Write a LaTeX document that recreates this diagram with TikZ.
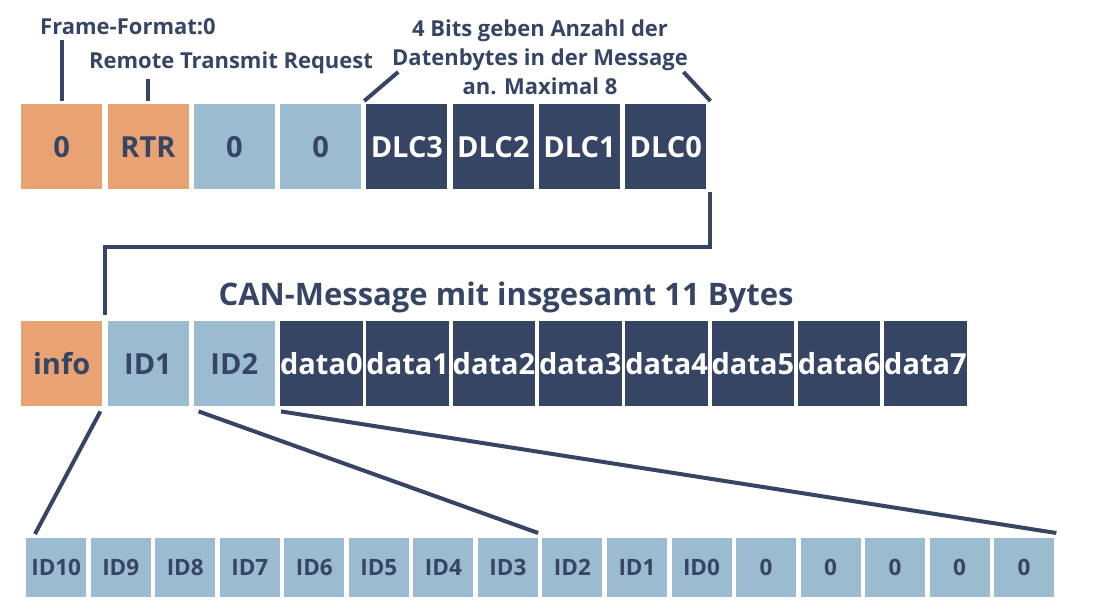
\documentclass[tikz,border=0pt]{standalone}
\usepackage{fontspec}
\setmainfont{Open Sans}
\definecolor{orng}{HTML}{E9A272}
\definecolor{lblue}{HTML}{9ABBD0}
\definecolor{navy}{HTML}{374565}
\tikzset{
  cell/.style={anchor=north west, inner sep=0pt, minimum width=81pt, minimum height=85pt, font=\bfseries\fontsize{29}{32}\selectfont},
  small/.style={anchor=north west, inner sep=0pt, minimum width=60pt, minimum height=59pt, fill=lblue, text=navy, font=\bfseries\fontsize{22.5}{25}\selectfont},
  org/.style={cell, fill=orng, text=navy},
  lb/.style={cell, fill=lblue, text=navy},
  dk/.style={cell, fill=navy, text=white},
  lbl/.style={text=navy, inner sep=0pt, font=\bfseries\fontsize{22}{25}\selectfont},
  conn/.style={draw=navy, line width=4pt},
}
\begin{document}
\begin{tikzpicture}[x=1pt,y=-1pt]
\useasboundingbox (0,0) rectangle (1117,611);
% top row
\node[org] (t0) at (21,104) {0};
\node[org] (t1) at (107.3,104) {RTR};
\node[lb] (t2) at (193.6,104) {0};
\node[lb] (t3) at (279.9,104) {0};
\node[dk] (t4) at (366.2,104) {DLC3};
\node[dk] (t5) at (452.5,104) {DLC2};
\node[dk] (t6) at (538.8,104) {DLC1};
\node[dk] (t7) at (625.1,104) {DLC0};
% labels
\node[lbl] (ff) at (128,27) {Frame-Format:0};
\node[lbl] (rtr) at (231,63) {Remote Transmit Request};
\node[lbl, align=center, font=\bfseries\fontsize{22}{29}\selectfont] (dlc) at (540,57) {4 Bits geben Anzahl der\\Datenbytes in der Message\\an. Maximal 8};
\node[lbl, font=\bfseries\fontsize{31}{35}\selectfont] (can) at (506,297) {CAN-Message mit insgesamt 11 Bytes};
% middle row
\node[org] (m0) at (21,321) {info};
\node[lb] (m1) at (107.3,321) {ID1};
\node[lb] (m2) at (193.6,321) {ID2};
\foreach \i [evaluate=\i as \x using 279.9+(\i)*86.3, evaluate=\i as \n using int(\i+3)] in {0,...,7}
  \node[dk] (m\n) at (\x,321) {data\i};
% bottom row
\foreach \t [count=\i from 0, evaluate=\i as \x using 26+(\i)*64.53] in {ID10,ID9,ID8,ID7,ID6,ID5,ID4,ID3,ID2,ID1,ID0,0,0,0,0,0}
  \node[small] (l\i) at (\x,538) {\t};
% connectors
\draw[conn] ([yshift=3pt]t0.north) -- ([yshift=-5pt]t0.north |- ff.south);
\draw[conn] ([yshift=3pt]t1.north) -- ([yshift=-5pt]t1.north |- rtr.south);
\draw[conn] ([xshift=-2pt,yshift=3pt]t4.north west) -- ++(34,-29);
\draw[conn] ([xshift=4pt,yshift=3pt]t7.north east) -- ++(-27,-29);
\draw[conn] ([xshift=3pt,yshift=-3pt]t7.south east) |- ([xshift=3pt]m0.north east |- 0,247) -- ([xshift=3pt,yshift=6pt]m0.north east);
\draw[conn] ([xshift=-2pt,yshift=-5pt]m0.south east) -- ([xshift=9pt,yshift=4pt]l0.north west);
\draw[conn] ([xshift=5pt,yshift=-5pt]m2.south west) -- ([yshift=5pt]l7.north east);
\draw[conn] ([xshift=6pt,yshift=-5pt]m2.south east) -- ([xshift=2pt,yshift=5pt]l15.north east);
\end{tikzpicture}
\end{document}
